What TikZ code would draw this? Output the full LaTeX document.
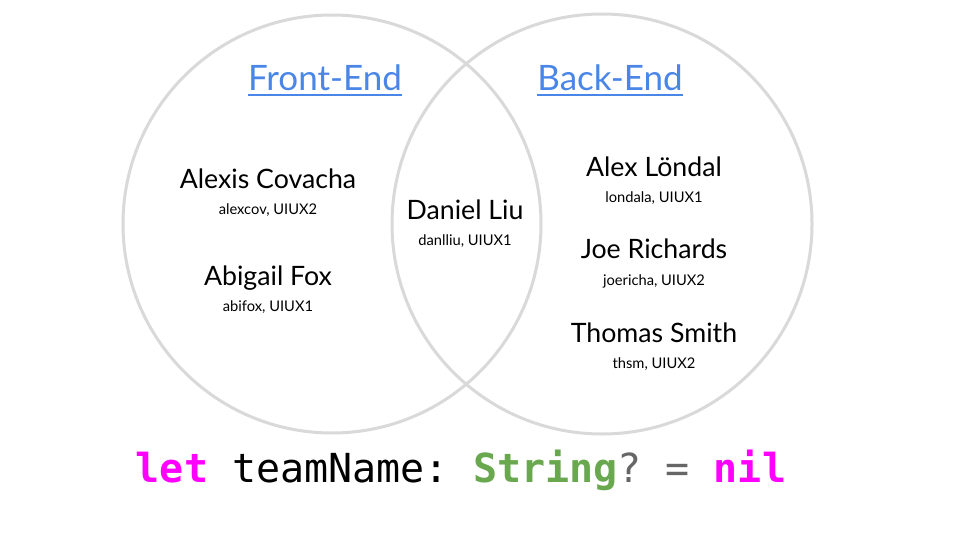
\documentclass[tikz,border=0pt]{standalone}
\usepackage{fontspec}
\setmainfont{Lato}
\setmonofont{DejaVu Sans Mono}
\definecolor{ringgray}{HTML}{D9D9D9}
\definecolor{headblue}{HTML}{4A86E8}
\definecolor{kwpink}{HTML}{FF00FF}
\definecolor{typegreen}{HTML}{6AA84F}
\definecolor{opgray}{HTML}{666666}
\begin{document}
\begin{tikzpicture}[x=1pt, y=-1pt,
	ring/.style = {draw=ringgray, line width=3pt},
	head/.style = {text=headblue, inner sep=0pt, anchor=base, font=\fontsize{35}{35}\selectfont},
	underline/.style = {draw=headblue, line width=2pt},
	person/.style = {inner sep=0pt, anchor=base, font=\fontsize{26.7}{26.7}\selectfont},
	handle/.style = {inner sep=0pt, anchor=base, font=\fontsize{14.7}{14.7}\selectfont},
	code/.style = {inner sep=0pt, anchor=base, font=\ttfamily\fontsize{40}{40}\selectfont}]
			\useasboundingbox[fill=white] (0,0) rectangle (960,540);
			% the two team circles
			\draw[ring] (332,224) circle (209);
			\draw[ring] (602,224) circle (210);
			% headings
			\node[head] (fe) at (325,91) {Front-End};
			\node[head] (be) at (610,91) {Back-End};
			\draw[underline] ([yshift=-4pt]fe.south west) -- ([yshift=-4pt]fe.south east);
			\draw[underline] ([yshift=-4pt]be.south west) -- ([yshift=-4pt]be.south east);
			% front-end only
			\node[person] (alexis) at (268,188) {Alexis Covacha};
			\node[handle] (alexcov) at (268,214) {alexcov, UIUX2};
			\node[person] (abigail) at (268,285) {Abigail Fox};
			\node[handle] (abifox) at (268,311) {abifox, UIUX1};
			% both
			\node[person] (daniel) at (465,219) {Daniel Liu};
			\node[handle] (danlliu) at (465,245) {danlliu, UIUX1};
			% back-end only
			\node[person] (alex) at (654,176) {Alex Löndal};
			\node[handle] (londala) at (654,202) {londala, UIUX1};
			\node[person] (joe) at (654,258) {Joe Richards};
			\node[handle] (joericha) at (654,285) {joericha, UIUX2};
			\node[person] (thomas) at (654,342) {Thomas Smith};
			\node[handle] (thsm) at (654,368) {thsm, UIUX2};
			% swift line
			\node[code] (swift) at (461,482) {\textcolor{kwpink}{\bfseries let} teamName: \textcolor{typegreen}{\bfseries String}\textcolor{opgray}{? =} \textcolor{kwpink}{\bfseries nil}};
		\end{tikzpicture}
\end{document}
